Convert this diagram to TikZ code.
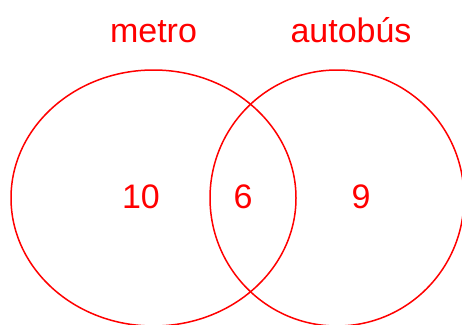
\documentclass[tikz,border=0pt]{standalone}
\usepackage{fontspec}
\setmainfont{Liberation Sans}
\begin{document}
\begin{tikzpicture}[x=1pt,y=-1pt,
  set/.style={draw=red,line width=1.5pt},
  lbl/.style={text=red,font=\fontsize{34}{39}\selectfont,anchor=base,inner sep=0pt}]
\useasboundingbox (0,0) rectangle (462,324);
\begin{scope}
\clip (0,0) rectangle (462,324);
\draw[set] (153.5,198) ellipse [x radius=142.5, y radius=128];
\draw[set] (337,198) ellipse [x radius=127, y radius=128];
\end{scope}
\node[lbl] (metro) at (153.5,42) {metro};
\node[lbl] (bus) at (351,42) {autobús};
\node[lbl] (a) at (141,208) {10};
\node[lbl] (b) at (243,208) {6};
\node[lbl] (c) at (361,208) {9};
\end{tikzpicture}
\end{document}
